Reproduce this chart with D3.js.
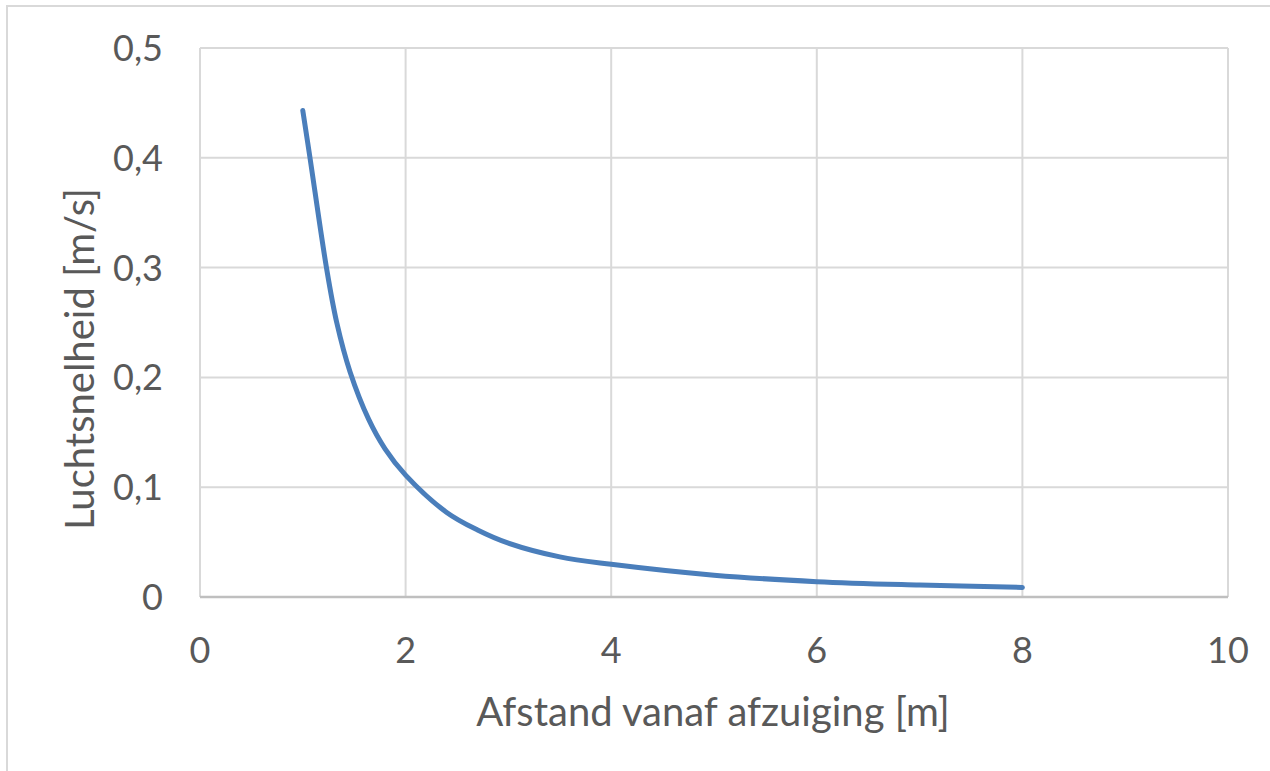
<!DOCTYPE html>
<html>
<head>
<meta charset="utf-8">
<script src="https://cdn.jsdelivr.net/npm/d3@7"></script>
<style>
  body { margin: 0; background: #fff; }
  svg text { font-family: Lato, "Open Sans", sans-serif; fill: #595959; }
</style>
</head>
<body>
<svg id="grafiek" width="1270" height="771"></svg>
<script>
// afstand [m] en luchtsnelheid [m/s]
const afstand = [1, 1.07, 1.23, 1.33, 1.46, 1.64, 1.8, 2, 2.4, 2.7, 3, 3.5, 4, 5, 6, 7, 8];
const snelheid = [0.443, 0.4, 0.3, 0.25, 0.205, 0.162, 0.135, 0.111, 0.077, 0.061, 0.049, 0.0365, 0.0298, 0.0199, 0.014, 0.0109, 0.0087];

const xTicks = [0, 2, 4, 6, 8, 10];
const yTicks = [0, 0.1, 0.2, 0.3, 0.4, 0.5];

const titelX = "Afstand vanaf afzuiging [m]";
const titelY = "Luchtsnelheid [m/s]";

const svg = d3.select("#grafiek");

// rand om de hele grafiek
svg.append("rect")
    .attr("x", 7).attr("y", 6)
    .attr("width", 1300).attr("height", 800)
    .attr("fill", "none")
    .attr("stroke", "#d9d9d9")
    .attr("stroke-width", 2);

const links = 200, rechts = 1228, boven = 48, onder = 597;

const x = d3.scaleLinear().domain([0, 10]).range([links, rechts]);
const y = d3.scaleLinear().domain([0, 0.5]).range([onder, boven]);

// rasterlijnen
svg.append("g").selectAll("line")
    .data(xTicks)
    .join("line")
    .attr("x1", d => x(d)).attr("x2", d => x(d))
    .attr("y1", boven).attr("y2", onder)
    .attr("stroke", "#d9d9d9").attr("stroke-width", 2);

svg.append("g").selectAll("line")
    .data(yTicks)
    .join("line")
    .attr("x1", links).attr("x2", rechts)
    .attr("y1", d => y(d)).attr("y2", d => y(d))
    .attr("stroke", d => d === 0 ? "#bfbfbf" : "#d9d9d9")
    .attr("stroke-width", d => d === 0 ? 2.5 : 2);

const fmt = d => d === 0 ? "0" : d3.format(".1f")(d).replace(".", ",");

// as-labels
svg.append("g").selectAll("text")
    .data(yTicks)
    .join("text")
    .attr("x", 163)
    .attr("y", d => y(d))
    .attr("dy", "0.36em")
    .attr("text-anchor", "end")
    .attr("font-size", 36)
    .text(fmt);

svg.append("g").selectAll("text")
    .data(xTicks)
    .join("text")
    .attr("x", d => x(d))
    .attr("y", 650)
    .attr("dy", "0.36em")
    .attr("text-anchor", "middle")
    .attr("font-size", 36)
    .text(d => d);

// lijn
const lijn = d3.line()
    .x((d, i) => x(afstand[i]))
    .y(d => y(d))
    .curve(d3.curveCatmullRom.alpha(0.5));

svg.append("path")
    .datum(snelheid)
    .attr("d", lijn)
    .attr("fill", "none")
    .attr("stroke", "#4a7ebb")
    .attr("stroke-width", 5)
    .attr("stroke-linecap", "round");

// titels
svg.append("text")
    .attr("x", 713).attr("y", 712)
    .attr("dy", "0.36em")
    .attr("text-anchor", "middle")
    .attr("font-size", 40)
    .text(titelX);

svg.append("text")
    .attr("transform", "translate(80,359) rotate(-90)")
    .attr("dy", "0.36em")
    .attr("text-anchor", "middle")
    .attr("font-size", 40)
    .text(titelY);
</script>
</body>
</html>
